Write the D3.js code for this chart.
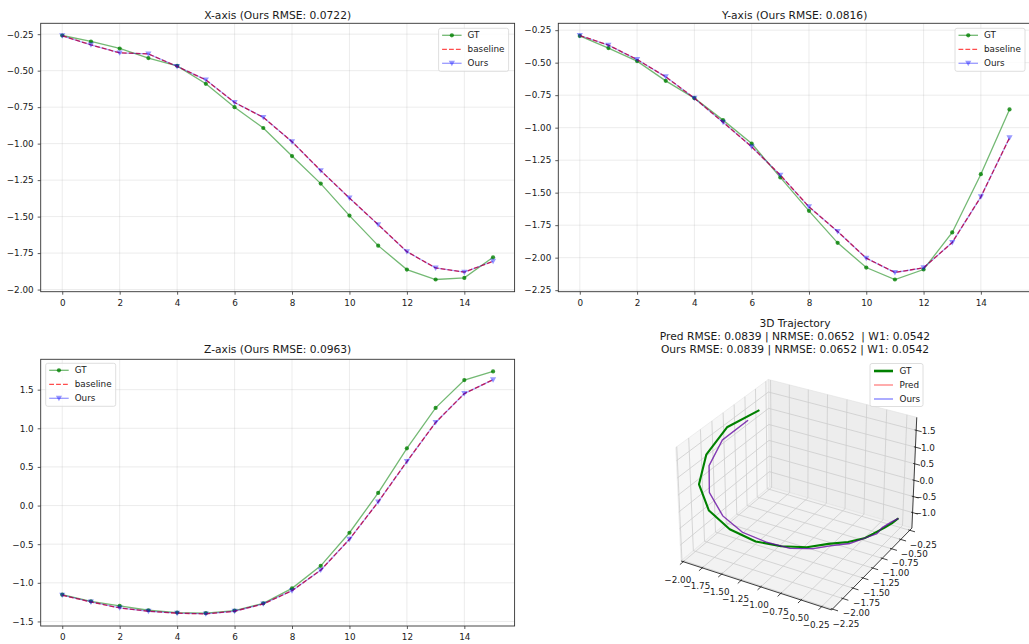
<!DOCTYPE html>
<html><head><meta charset="utf-8">
<script src="https://cdn.jsdelivr.net/npm/d3@7"></script>
<style>
body{margin:0;background:#fff}
svg{display:block;font-family:"DejaVu Sans",sans-serif}
text{white-space:pre}
</style>
</head><body>
<svg id="c" width="1029" height="644"></svg>
<script>
// ---------------- data ----------------
const steps = [0,1,2,3,4,5,6,7,8,9,10,11,12,13,14,15];
const xTickVals = [0,2,4,6,8,10,12,14];

const gtX   = [-0.259,-0.300,-0.348,-0.414,-0.467,-0.590,-0.750,-0.893,-1.085,-1.274,-1.493,-1.699,-1.863,-1.931,-1.920,-1.779];
const baseX = [-0.261,-0.323,-0.378,-0.385,-0.471,-0.563,-0.718,-0.820,-0.987,-1.185,-1.373,-1.555,-1.740,-1.852,-1.881,-1.806];
const oursX = [-0.261,-0.323,-0.378,-0.385,-0.471,-0.563,-0.718,-0.820,-0.987,-1.185,-1.373,-1.555,-1.740,-1.852,-1.881,-1.806];

const gtY   = [-0.294,-0.388,-0.488,-0.640,-0.773,-0.942,-1.122,-1.383,-1.640,-1.886,-2.076,-2.168,-2.091,-1.806,-1.358,-0.860];
const baseY = [-0.291,-0.365,-0.476,-0.609,-0.773,-0.958,-1.147,-1.365,-1.609,-1.799,-2.004,-2.114,-2.078,-1.883,-1.532,-1.078];
const oursY = [-0.291,-0.365,-0.476,-0.609,-0.773,-0.958,-1.147,-1.365,-1.609,-1.799,-2.004,-2.114,-2.078,-1.883,-1.532,-1.078];

const gtZ   = [-1.153,-1.239,-1.299,-1.355,-1.385,-1.393,-1.359,-1.265,-1.072,-0.780,-0.352,0.163,0.741,1.264,1.624,1.736];
const baseZ = [-1.160,-1.248,-1.325,-1.368,-1.393,-1.402,-1.368,-1.273,-1.102,-0.836,-0.437,0.047,0.570,1.076,1.449,1.629];
const oursZ = [-1.160,-1.248,-1.325,-1.368,-1.393,-1.402,-1.368,-1.273,-1.102,-0.836,-0.437,0.047,0.570,1.076,1.449,1.629];

const yTicksX = [-2.00,-1.75,-1.50,-1.25,-1.00,-0.75,-0.50,-0.25];
const yTicksY = [-2.25,-2.00,-1.75,-1.50,-1.25,-1.00,-0.75,-0.50,-0.25];
const yTicksZ = [-1.5,-1.0,-0.5,0.0,0.5,1.0,1.5];

const titles = ["X-axis (Ours RMSE: 0.0722)","Y-axis (Ours RMSE: 0.0816)","Z-axis (Ours RMSE: 0.0963)"];
const seriesNames = ["GT","baseline","Ours"];
const title3D = ["3D Trajectory","Pred RMSE: 0.0839 | NRMSE: 0.0652  | W1: 0.0542","Ours RMSE: 0.0839 | NRMSE: 0.0652 | W1: 0.0542"];
const names3D = ["GT","Pred","Ours"];

const x3Ticks = [-2.00,-1.75,-1.50,-1.25,-1.00,-0.75,-0.50,-0.25];
const y3Ticks = [-2.25,-2.00,-1.75,-1.50,-1.25,-1.00,-0.75,-0.50,-0.25];
const z3Ticks = [-1.0,-0.5,0.0,0.5,1.0,1.5];
const lim3X = [-2.03,-0.13];
const lim3Y = [-2.27,-0.19];
const lim3Z = [-1.49,1.88];

// ---------------- style ----------------
const TITLE_FS = 10.7, TICK_FS = 8.8, LEG_FS = 8.8;
const TXT = "#1a1a1a";
const svg = d3.select("#c");

function trianglePath(s){ return `M${-s},${-s*0.8}L${s},${-s*0.8}L0,${s*0.95}Z`; }

function panel(cfg){
  const {left, top, right, bottom, gt, base, ours, yTicks, yFmt, title, titleY, legendRight} = cfg;
  const ext = d3.extent(steps), px = (ext[1]-ext[0])*0.05;
  const xs = d3.scaleLinear().domain([ext[0]-px, ext[1]+px]).range([left, right]);
  const all = gt.concat(base, ours);
  const mn = d3.min(all), mx = d3.max(all), pad = (mx-mn)*0.05;
  const ys = d3.scaleLinear().domain([mn-pad, mx+pad]).range([bottom, top]);
  const g = svg.append("g");

  // grid
  g.append("g").selectAll("line").data(xTickVals).join("line")
    .attr("x1", d=>xs(d)).attr("x2", d=>xs(d)).attr("y1", top).attr("y2", bottom)
    .attr("stroke", "#b0b0b0").attr("stroke-opacity", 0.3).attr("stroke-width", 0.8);
  g.append("g").selectAll("line").data(yTicks).join("line")
    .attr("y1", d=>ys(d)).attr("y2", d=>ys(d)).attr("x1", left).attr("x2", right)
    .attr("stroke", "#b0b0b0").attr("stroke-opacity", 0.3).attr("stroke-width", 0.8);

  // axes
  const ax = g.append("g").attr("transform", `translate(0,${bottom})`)
    .call(d3.axisBottom(xs).tickValues(xTickVals).tickSize(3).tickPadding(5).tickFormat(d3.format("d")));
  const ay = g.append("g").attr("transform", `translate(${left},0)`)
    .call(d3.axisLeft(ys).tickValues(yTicks).tickSize(3).tickPadding(4).tickFormat(d3.format(yFmt)));
  [ax, ay].forEach(a=>{
    a.select(".domain").remove();
    a.selectAll("line").attr("stroke", "#333").attr("stroke-width", 0.8);
    a.selectAll("text").attr("font-size", TICK_FS).attr("fill", TXT).attr("font-family", "DejaVu Sans");
  });

  // lines
  const line = d3.line().x((d,i)=>xs(steps[i])).y(d=>ys(d));
  g.append("path").attr("d", line(gt)).attr("fill","none").attr("stroke","#008000")
    .attr("stroke-opacity",0.55).attr("stroke-width",1.3);
  g.append("g").selectAll("circle").data(gt).join("circle")
    .attr("cx",(d,i)=>xs(steps[i])).attr("cy",d=>ys(d)).attr("r",2.1)
    .attr("fill","#008000").attr("fill-opacity",0.8);
  g.append("path").attr("d", line(base)).attr("fill","none").attr("stroke","#ff0000")
    .attr("stroke-opacity",0.85).attr("stroke-width",1.3).attr("stroke-dasharray","4.8,2.1");
  g.append("path").attr("d", line(ours)).attr("fill","none").attr("stroke","#0000ff")
    .attr("stroke-opacity",0.32).attr("stroke-width",1.3);
  g.append("g").selectAll("path").data(ours).join("path")
    .attr("transform",(d,i)=>`translate(${xs(steps[i])},${ys(d)})`)
    .attr("d", trianglePath(3.1)).attr("fill","#0000ff").attr("fill-opacity",0.4);

  // frame
  g.append("rect").attr("x",left).attr("y",top).attr("width",right-left).attr("height",bottom-top)
    .attr("fill","none").attr("stroke","#333").attr("stroke-width",0.9);

  // title
  g.append("text").attr("x",(left+right)/2).attr("y",titleY).attr("text-anchor","middle")
    .attr("font-size",TITLE_FS).attr("fill",TXT).text(title);

  // legend
  const lw = 70, lh = 43;
  const lx = legendRight ? right - 6 - lw : left + 5;
  const ly = legendRight ? top + 5 : top + 4;
  const lg = g.append("g").attr("transform",`translate(${lx},${ly})`);
  lg.append("rect").attr("width",lw).attr("height",lh).attr("rx",2)
    .attr("fill","#fff").attr("fill-opacity",0.8).attr("stroke","#d5d5d5").attr("stroke-width",0.8);
  const rows = [7, 21, 35];
  const sx0 = 3.5, sx1 = 23, tx = 29;
  lg.append("line").attr("x1",sx0).attr("x2",sx1).attr("y1",rows[0]).attr("y2",rows[0])
    .attr("stroke","#008000").attr("stroke-opacity",0.55).attr("stroke-width",1.3);
  lg.append("circle").attr("cx",(sx0+sx1)/2).attr("cy",rows[0]).attr("r",2.1)
    .attr("fill","#008000").attr("fill-opacity",0.8);
  lg.append("line").attr("x1",sx0).attr("x2",sx1).attr("y1",rows[1]).attr("y2",rows[1])
    .attr("stroke","#ff0000").attr("stroke-opacity",0.7).attr("stroke-width",1.3).attr("stroke-dasharray","4.8,2.1");
  lg.append("line").attr("x1",sx0).attr("x2",sx1).attr("y1",rows[2]).attr("y2",rows[2])
    .attr("stroke","#0000ff").attr("stroke-opacity",0.4).attr("stroke-width",1.3);
  lg.append("path").attr("transform",`translate(${(sx0+sx1)/2},${rows[2]})`)
    .attr("d",trianglePath(3.1)).attr("fill","#0000ff").attr("fill-opacity",0.4);
  lg.selectAll("text.l").data(seriesNames).join("text").attr("class","l")
    .attr("x",tx).attr("y",(d,i)=>rows[i]).attr("dy","0.35em")
    .attr("font-size",LEG_FS).attr("fill",TXT).text(d=>d);
}

panel({left:40.7, top:23.3, right:514.6, bottom:291.7, gt:gtX, base:baseX, ours:oursX,
  yTicks:yTicksX, yFmt:".2f", title:titles[0], titleY:18.8, legendRight:true});
panel({left:558.3, top:23.3, right:1031, bottom:291.7, gt:gtY, base:baseY, ours:oursY,
  yTicks:yTicksY, yFmt:".2f", title:titles[1], titleY:18.8, legendRight:true});
panel({left:40.7, top:359.3, right:514.6, bottom:626, gt:gtZ, base:baseZ, ours:oursZ,
  yTicks:yTicksZ, yFmt:".1f", title:titles[2], titleY:353, legendRight:false});

// ---------------- 3D panel ----------------
(function(){
  const elev = 30*Math.PI/180, azim = -60*Math.PI/180;
  const aspect = [4,4,3];
  const nrm = Math.hypot(...aspect);
  const A3 = aspect.map(a=>a*1.8294640721620434/nrm);
  const w = [Math.cos(elev)*Math.cos(azim), Math.cos(elev)*Math.sin(azim), Math.sin(elev)];
  let u = [-w[1], w[0], 0]; const un = Math.hypot(u[0],u[1]); u = u.map(c=>c/un);
  const v = [w[1]*u[2]-w[2]*u[1], w[2]*u[0]-w[0]*u[2], w[0]*u[1]-w[1]*u[0]];
  const DIST = 10, CX = 798.5, CY = 489.4, S = 1510;
  const dot = (a,b)=>a[0]*b[0]+a[1]*b[1]+a[2]*b[2];
  const sx = d3.scaleLinear().domain(lim3X).range([-A3[0]/2, A3[0]/2]);
  const sy = d3.scaleLinear().domain(lim3Y).range([-A3[1]/2, A3[1]/2]);
  const sz = d3.scaleLinear().domain(lim3Z).range([-A3[2]/2, A3[2]/2]);
  function P(x,y,z){
    const q = [sx(x), sy(y), sz(z)];
    const d = DIST - dot(w,q);
    return [CX + dot(u,q)/d*S, CY - dot(v,q)/d*S];
  }
  const [x0,x1] = lim3X, [y0,y1] = lim3Y, [z0,z1] = lim3Z;
  const g = svg.append("g");
  const poly = pts => "M" + pts.map(p=>P(...p).join(",")).join("L") + "Z";
  const pl = pts => "M" + pts.map(p=>P(...p).join(",")).join("L");

  // panes
  g.append("path").attr("d", poly([[x0,y0,z0],[x0,y1,z0],[x0,y1,z1],[x0,y0,z1]]))
    .attr("fill","#f6f6f6").attr("stroke","#e4e4e4").attr("stroke-width",0.6);
  g.append("path").attr("d", poly([[x0,y1,z0],[x1,y1,z0],[x1,y1,z1],[x0,y1,z1]]))
    .attr("fill","#ededed").attr("stroke","#e0e0e0").attr("stroke-width",0.6);
  g.append("path").attr("d", poly([[x0,y0,z0],[x1,y0,z0],[x1,y1,z0],[x0,y1,z0]]))
    .attr("fill","#f2f2f2").attr("stroke","#e2e2e2").attr("stroke-width",0.6);

  // grid
  const gridG = g.append("g").attr("fill","none").attr("stroke","#cdcdcd").attr("stroke-width",0.8);
  gridG.selectAll("path.gx").data(x3Ticks).join("path").attr("class","gx")
    .attr("d", t=>pl([[t,y1,z1],[t,y1,z0],[t,y0,z0]]));
  gridG.selectAll("path.gy").data(y3Ticks).join("path").attr("class","gy")
    .attr("d", t=>pl([[x0,t,z1],[x0,t,z0],[x1,t,z0]]));
  gridG.selectAll("path.gz").data(z3Ticks).join("path").attr("class","gz")
    .attr("d", t=>pl([[x0,y0,t],[x0,y1,t],[x1,y1,t]]));

  // axis lines
  const axG = g.append("g").attr("fill","none").attr("stroke","#111").attr("stroke-width",0.8);
  axG.append("path").attr("d", pl([[x0,y0,z0],[x1,y0,z0]]));
  axG.append("path").attr("d", pl([[x1,y0,z0],[x1,y1,z0]]));
  axG.append("path").attr("d", pl([[x1,y1,z0],[x1,y1,z1]]));
  const dx = x1-x0, dy = y1-y0;
  axG.selectAll("path.tx").data(x3Ticks).join("path").attr("class","tx")
    .attr("d", t=>pl([[t,y0+0.01*dy,z0],[t,y0-0.035*dy,z0]]));
  axG.selectAll("path.ty").data(y3Ticks).join("path").attr("class","ty")
    .attr("d", t=>pl([[x1-0.01*dx,t,z0],[x1+0.035*dx,t,z0]]));
  axG.selectAll("path.tz").data(z3Ticks).join("path").attr("class","tz")
    .attr("d", t=>pl([[x1-0.01*dx,y1,t],[x1+0.035*dx,y1,t]]));

  // tick labels
  const f2 = d3.format(".2f"), f1 = d3.format(".1f");
  const lab = g.append("g").attr("font-size",TICK_FS).attr("fill",TXT).attr("text-anchor","middle");
  lab.selectAll("text.lx").data(x3Ticks).join("text").attr("class","lx")
    .attr("x", t=>P(t,y0,z0)[0]-5.5).attr("y", t=>P(t,y0,z0)[1]+18).attr("dy","0.35em").text(f2);
  lab.selectAll("text.ly").data(y3Ticks).join("text").attr("class","ly")
    .attr("x", t=>P(x1,t,z0)[0]+13.5).attr("y", t=>P(x1,t,z0)[1]+14.5).attr("dy","0.35em").text(f2);
  lab.selectAll("text.lz").data(z3Ticks).join("text").attr("class","lz")
    .attr("x", t=>P(x1,y1,t)[0]+12.5).attr("y", t=>P(x1,y1,t)[1]+0.5).attr("dy","0.35em").text(f1);

  // data lines
  const ln = d3.line();
  const pts = (X,Y,Z)=>X.map((d,i)=>P(X[i],Y[i],Z[i]));
  g.append("path").attr("d", ln(pts(gtX,gtY,gtZ))).attr("fill","none").attr("stroke","#008000")
    .attr("stroke-width",2.1).attr("stroke-linejoin","round");
  g.append("path").attr("d", ln(pts(baseX,baseY,baseZ))).attr("fill","none").attr("stroke","#ff0000")
    .attr("stroke-opacity",0.5).attr("stroke-width",1.3);
  g.append("path").attr("d", ln(pts(oursX,oursY,oursZ))).attr("fill","none").attr("stroke","#0000ff")
    .attr("stroke-opacity",0.5).attr("stroke-width",1.3);

  // title
  g.append("g").selectAll("text").data(title3D).join("text")
    .attr("x",795).attr("y",(d,i)=>326.8+i*13).attr("text-anchor","middle")
    .attr("font-size",TITLE_FS).attr("fill",TXT).text(d=>d);

  // legend
  const lg = g.append("g").attr("transform","translate(870,363.5)");
  lg.append("rect").attr("width",53).attr("height",43).attr("rx",2)
    .attr("fill","#fff").attr("fill-opacity",0.8).attr("stroke","#d5d5d5").attr("stroke-width",0.8);
  const rows = [7.5, 21.5, 35.5];
  const sty = [["#008000",1,2.6],["#ff0000",0.5,1.3],["#0000ff",0.5,1.3]];
  lg.selectAll("line").data(sty).join("line").attr("x1",4).attr("x2",23)
    .attr("y1",(d,i)=>rows[i]).attr("y2",(d,i)=>rows[i])
    .attr("stroke",d=>d[0]).attr("stroke-opacity",d=>d[1]).attr("stroke-width",d=>d[2]);
  lg.selectAll("text").data(names3D).join("text").attr("x",29.5).attr("y",(d,i)=>rows[i])
    .attr("dy","0.35em").attr("font-size",LEG_FS).attr("fill",TXT).text(d=>d);
})();
</script>
</body></html>
